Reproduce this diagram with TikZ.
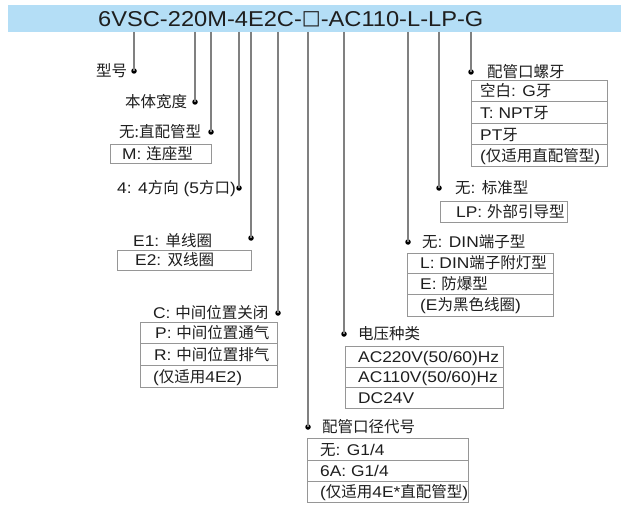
\documentclass[tikz,border=0pt]{standalone}
\usepackage{fontspec}
\setmainfont{Liberation Sans}[FakeStretch=1.12]
\newfontfamily\titlef{Liberation Sans}[FakeStretch=1.1]
\newfontfamily\symf{DejaVu Sans}
\newfontfamily\cjk{Noto Sans CJK SC}
\newcommand\zh[1]{{\cjk #1}}
\definecolor{band}{RGB}{180,222,246}
\definecolor{txt}{RGB}{30,30,30}
\definecolor{ln}{RGB}{128,128,128}
\definecolor{bx}{RGB}{150,150,150}
\tikzset{
  lbl/.style={anchor=base west, inner sep=0pt, text=txt, font=\fontsize{15.5}{18}\selectfont},
  dotn/.style={circle, fill=black, inner sep=0pt, minimum size=5.5pt},
  lead/.style={draw=ln, line width=1.2pt},
  boxl/.style={draw=bx, line width=1pt},
}
\begin{document}
\begin{tikzpicture}[x=1pt,y=-1pt]
\useasboundingbox (0,0) rectangle (637,508);
\fill[white] (0,0) rectangle (637,508);
% header band
\fill[band] (8,5) rectangle (621,32);
\node[anchor=west, inner sep=0pt, text=txt, font=\titlef\fontsize{21.5}{24}\selectfont] (title) at (98,19) {6VSC-220M-4E2C-\raisebox{1.5pt}{\symf\fontsize{20}{24}\selectfont □}-AC110-L-LP-G};
% tap points under the band
\foreach \n/\x in {t1/134,t2/195,t3/211,t4/239,t5/251,t6/278,t7/308,t8/344,t9/408,t10/439,t11/471}
  {\coordinate (\n) at (\x,32);}
% dots
\node[dotn] (d1) at (134,71) {};
\node[dotn] (d2) at (195,102) {};
\node[dotn] (d3) at (211,132) {};
\node[dotn] (d4) at (239,188) {};
\node[dotn] (d5) at (251,238) {};
\node[dotn] (d6) at (278,313) {};
\node[dotn] (d7) at (308,427) {};
\node[dotn] (d8) at (344,334) {};
\node[dotn] (d9) at (408,242) {};
\node[dotn] (d10) at (439,188) {};
\node[dotn] (d11) at (471,72) {};
\foreach \i in {1,...,11} {\draw[lead] (t\i) -- (d\i.center);}
% 1
\node[lbl] (l1) at (96,76.5) {\zh{型号}};
% 2
\node[lbl] (l2) at (125,107.5) {\zh{本体宽度}};
% 3
\node[lbl] (l3) at (119,137.5) {\zh{无:直配管型}};
\draw[boxl] (110,145) rectangle (211,163);
\node[lbl] (l3a) at (122,159.5) {M: \zh{连座型}};
% 4
\node[lbl] (l4) at (117,193.5) {4: 4\zh{方向} (5\zh{方口})};
% 5
\node[lbl] (l5) at (133,246.5) {E1: \zh{单线圈}};
\draw[boxl] (117,250) rectangle (251,270);
\node[lbl] (l5a) at (135,265.5) {E2: \zh{双线圈}};
% 6
\node[lbl] (l6) at (153,318.5) {C: \zh{中间位置关闭}};
\draw[boxl] (140,322) rectangle (277,343.5);
\draw[boxl] (140,343.5) rectangle (277,365);
\draw[boxl] (140,365) rectangle (277,387);
\node[lbl] (l6a) at (155,338.5) {P: \zh{中间位置通气}};
\node[lbl] (l6b) at (154,360) {R: \zh{中间位置排气}};
\node[lbl] (l6c) at (153,382) {(\zh{仅适用}4E2)};
% 7
\node[lbl] (l7) at (322,432.5) {\zh{配管口径代号}};
\draw[boxl] (307,438) rectangle (468,460);
\draw[boxl] (307,460) rectangle (468,481);
\draw[boxl] (307,481) rectangle (468,502);
\node[lbl] (l7a) at (320,455.5) {\zh{无}: G1/4};
\node[lbl] (l7b) at (320,476) {6A: G1/4};
\node[lbl] (l7c) at (320,497) {(\zh{仅适用}4E*\zh{直配管型})};
% 8
\node[lbl] (l8) at (358,339.5) {\zh{电压种类}};
\draw[boxl] (345,346) rectangle (503,367);
\draw[boxl] (345,367) rectangle (503,387);
\draw[boxl] (345,387) rectangle (503,408);
\node[lbl] (l8a) at (358,362) {AC220V(50/60)Hz};
\node[lbl] (l8b) at (358,382.5) {AC110V(50/60)Hz};
\node[lbl] (l8c) at (358,403) {DC24V};
% 9
\node[lbl] (l9) at (422,247.5) {\zh{无}: DIN\zh{端子型}};
\draw[boxl] (407,253) rectangle (553,273);
\draw[boxl] (407,273) rectangle (553,294);
\draw[boxl] (407,294) rectangle (553,316);
\node[lbl] (l9a) at (420,268.5) {L: DIN\zh{端子附灯型}};
\node[lbl] (l9b) at (420,289) {E: \zh{防爆型}};
\node[lbl] (l9c) at (420,310.5) {(E\zh{为黑色线圈})};
% 10
\node[lbl] (l10) at (455,193.5) {\zh{无}: \zh{标准型}};
\draw[boxl] (440,201) rectangle (567,222);
\node[lbl] (l10a) at (456,217) {LP: \zh{外部引导型}};
% 11
\node[lbl] (l11) at (487,77.5) {\zh{配管口螺牙}};
\draw[boxl] (471,81) rectangle (607,102);
\draw[boxl] (471,102) rectangle (607,124);
\draw[boxl] (471,124) rectangle (607,145);
\draw[boxl] (471,145) rectangle (607,166);
\node[lbl] (l11a) at (480,97) {\zh{空白}: G\zh{牙}};
\node[lbl] (l11b) at (480,118.5) {T: NPT\zh{牙}};
\node[lbl] (l11c) at (480,140) {PT\zh{牙}};
\node[lbl] (l11d) at (480,161) {(\zh{仅适用直配管型})};
\end{tikzpicture}
\end{document}
